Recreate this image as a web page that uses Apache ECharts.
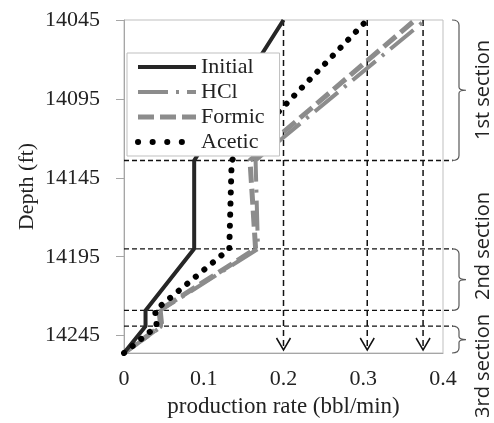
<!DOCTYPE html>
<html>
<head>
<meta charset="utf-8">
<script src="https://cdn.jsdelivr.net/npm/echarts@6/dist/echarts.min.js"></script>
<style>
  html, body { margin: 0; padding: 0; background: #fff; }
  #chart { width: 494px; height: 423px; }
</style>
</head>
<body>
<div id="chart"></div>
<script>
// depth (ft) vs production rate (bbl/min)
const depthTicks = [14045, 14095, 14145, 14195, 14245];
const depthMin = 14045;
const depthMax = 14256;

const initial = [[0, 14256], [0.027, 14239], [0.027, 14229], [0.088, 14190], [0.088, 14134], [0.2, 14045]];
const hcl     = [[0, 14256], [0.048, 14239], [0.046, 14229], [0.168, 14190], [0.165, 14134], [0.378, 14045]];
const formic  = [[0, 14256], [0.046, 14239], [0.044, 14229], [0.165, 14190], [0.158, 14134], [0.365, 14045]];
const acetic  = [[0, 14256], [0.041, 14239], [0.039, 14229], [0.132, 14190], [0.135, 14134], [0.305, 14045]];

// section boundaries and final rates
const sectionLines = [14134, 14190, 14229, 14239];
const sections = [[14045, 14134], [14190, 14229], [14239, 14256]];
const sectionNames = ['1st section', '2nd section', '3rd section'];
const finalRates = [0.2, 0.305, 0.375];

const serif = '"Liberation Serif", "DejaVu Serif", serif';
const gray = '#8c8c8c';

const styles = {
  Initial: { color: '#262626', width: 4, type: 'solid' },
  HCl: { color: gray, width: 4, type: [30, 8, 3, 8] },
  Formic: { color: gray, width: 5, type: [16, 6] },
  Acetic: { color: '#000', width: 6, type: [0.1, 11], cap: 'round' }
};

const chart = echarts.init(document.getElementById('chart'));

function hLines(params, api) {
  const d = api.value(1);
  const p0 = api.coord([0, d]);
  const p1 = api.coord([0.4, d]);
  return {
    type: 'line',
    shape: { x1: p0[0], y1: p0[1], x2: p1[0] + 10, y2: p1[1] },
    style: { stroke: '#111', lineWidth: 1.4, lineDash: [5, 3] }
  };
}

function vLines(params, api) {
  const r = api.value(0);
  const top = api.coord([r, depthMin]);
  const bot = api.coord([r, depthMax]);
  const tipY = bot[1] - 3;
  return {
    type: 'group',
    children: [
      { type: 'line', shape: { x1: top[0], y1: top[1], x2: top[0], y2: tipY },
        style: { stroke: '#111', lineWidth: 1.5, lineDash: [6, 4] } },
      { type: 'polyline', shape: { points: [[top[0] - 7, tipY - 12], [top[0], tipY], [top[0] + 7, tipY - 12]] },
        style: { stroke: '#111', lineWidth: 1.5, fill: null } }
    ]
  };
}

function braces(params, api) {
  const a = api.coord([0.4, api.value(0)]);
  const b = api.coord([0.4, api.value(1)]);
  const x = a[0] + 16;
  const y1 = a[1], y2 = b[1], ym = (y1 + y2) / 2;
  const path = 'M' + (x - 7) + ' ' + y1 + ' Q' + x + ' ' + y1 + ' ' + x + ' ' + (y1 + 5) +
    ' L' + x + ' ' + (ym - 3) + ' Q' + x + ' ' + ym + ' ' + (x + 7) + ' ' + ym +
    ' Q' + x + ' ' + ym + ' ' + x + ' ' + (ym + 3) +
    ' L' + x + ' ' + (y2 - 5) + ' Q' + x + ' ' + y2 + ' ' + (x - 7) + ' ' + y2;
  return {
    type: 'path',
    shape: { pathData: path },
    style: { stroke: '#595959', lineWidth: 1.2, fill: null }
  };
}

// label centres (px) chosen to match the picture
const labelY = [90, 246, 366];
function sectionText(label, i) {
  return {
    type: 'text', x: 483, y: labelY[i], rotation: Math.PI / 2,
    style: { text: label, align: 'center', verticalAlign: 'middle',
      fontFamily: 'Open Sans', fontSize: 20, fill: '#222' }
  };
}

chart.setOption({
  animation: false,
  grid: { left: 124, top: 20, right: 51, bottom: 69, show: true, borderColor: '#bfbfbf', borderWidth: 1 },
  xAxis: {
    type: 'value', min: 0, max: 0.4, interval: 0.1,
    name: 'production rate (bbl/min)', nameLocation: 'middle', nameGap: 42,
    nameTextStyle: { fontFamily: serif, fontSize: 23, color: '#222' },
    axisLine: { lineStyle: { color: '#a6a6a6' } },
    axisTick: { show: false },
    axisLabel: { margin: 15, fontFamily: serif, fontSize: 22, color: '#222' },
    splitLine: { show: false }
  },
  yAxis: {
    type: 'value', inverse: true, min: depthMin, max: depthMax,
    name: 'Depth (ft)', nameLocation: 'middle', nameGap: 86, nameRotate: 90,
    nameMoveOverlap: false,
    nameTextStyle: { fontFamily: serif, fontSize: 22, color: '#222' },
    axisLine: { show: true, lineStyle: { color: '#a6a6a6' } },
    axisTick: { show: true, length: 8, customValues: depthTicks, lineStyle: { color: '#a6a6a6' } },
    axisLabel: { margin: 24, customValues: depthTicks, formatter: v => String(v),
      fontFamily: serif, fontSize: 22, color: '#222' },
    splitLine: { show: false }
  },
  legend: {
    data: Object.keys(styles).map(n => ({
      name: n,
      lineStyle: n === 'Acetic' ? Object.assign({}, styles[n], { type: [0.1, 14.5] }) : styles[n]
    })),
    orient: 'vertical', left: 127, top: 53, z: 10,
    padding: [3, 15, 3, 8], itemGap: 3, itemWidth: 58, itemHeight: 14,
    backgroundColor: '#fff', borderColor: '#bfbfbf', borderWidth: 1,
    itemStyle: { opacity: 0 },
    textStyle: { fontFamily: serif, fontSize: 22, color: '#222' }
  },
  graphic: sectionNames.map(sectionText),
  series: [
    { name: 'Initial', type: 'line', data: initial, symbol: 'none', z: 3,
      lineStyle: styles.Initial, itemStyle: { color: styles.Initial.color } },
    { name: 'HCl', type: 'line', data: hcl, symbol: 'none', z: 2,
      lineStyle: styles.HCl, itemStyle: { color: gray } },
    { name: 'Formic', type: 'line', data: formic, symbol: 'none', z: 2,
      lineStyle: styles.Formic, itemStyle: { color: gray } },
    { name: 'Acetic', type: 'line', data: acetic, symbol: 'none', z: 3,
      lineStyle: styles.Acetic, itemStyle: { color: '#000' } },
    { type: 'custom', renderItem: hLines, data: sectionLines.map(d => [0, d]), z: 1, silent: true },
    { type: 'custom', renderItem: vLines, data: finalRates.map(r => [r, depthMax]), z: 1, silent: true },
    { type: 'custom', renderItem: braces, data: sections, z: 1, silent: true,
      encode: { x: [], y: [0, 1] } }
  ]
});
</script>
</body>
</html>
